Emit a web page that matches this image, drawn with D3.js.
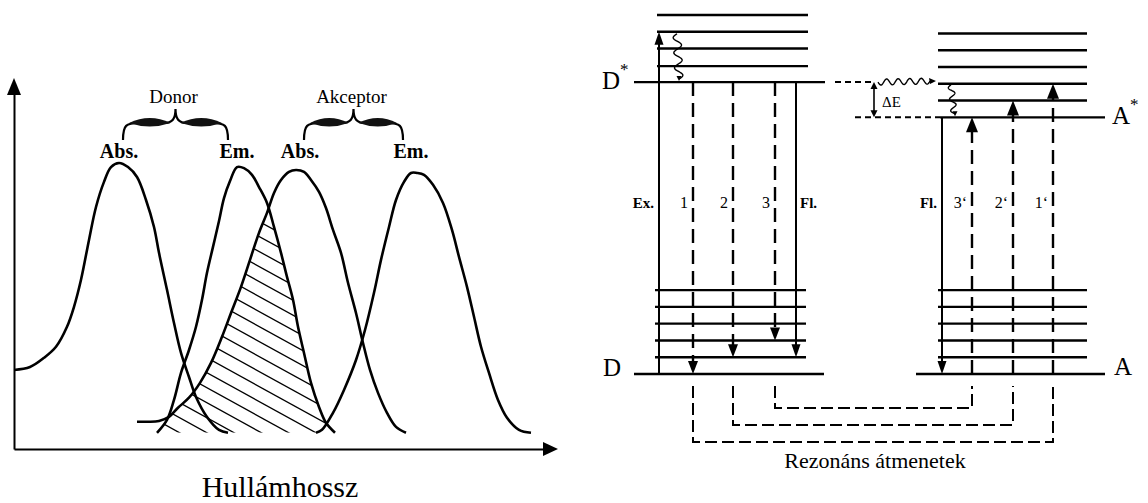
<!DOCTYPE html>
<html>
<head>
<meta charset="utf-8">
<script src="https://cdn.jsdelivr.net/npm/d3@7"></script>
<style>
body { margin: 0; background: #fff; }
svg { display: block; font-family: "Liberation Serif", "Times New Roman", serif; }
</style>
</head>
<body>
<svg id="chart" width="1148" height="503"></svg>
<script>
// spectra, [wavelength (arb.), relative intensity]
var donorAbs = [[0,0.233],[16,0.244],[30,0.278],[42,0.319],[53,0.393],[60,0.467],[67,0.567],[75,0.715],[82,0.837],[90,0.930],[97,0.985],[105,1.0],[114,0.985],[123,0.948],[132,0.863],[140,0.763],[145,0.667],[153,0.530],[160,0.407],[167,0.296],[175,0.207],[182,0.133],[193,0.059],[205,0.011],[214,0]];
var donorEm = [[143,0],[153,0.048],[160,0.122],[167,0.222],[175,0.307],[182,0.393],[188,0.493],[193,0.593],[199,0.689],[205,0.785],[210,0.87],[216,0.933],[223,0.985],[230,0.981],[238,0.956],[245,0.911],[253,0.852],[260,0.763],[267,0.667],[273,0.578],[279,0.493],[284,0.393],[290,0.296],[297,0.185],[305,0.096],[312,0.037],[321,0]];
var acceptorAbs = [[123,0.041],[134,0.041],[145,0.044],[155,0.059],[164,0.093],[175,0.130],[186,0.185],[197,0.259],[208,0.356],[217,0.444],[227,0.541],[236,0.641],[245,0.741],[253,0.815],[260,0.889],[267,0.937],[275,0.967],[282,0.974],[290,0.967],[297,0.937],[305,0.893],[312,0.833],[319,0.752],[327,0.667],[334,0.556],[342,0.444],[349,0.333],[356,0.233],[364,0.148],[373,0.074],[382,0.022],[392,0]];
var acceptorEm = [[302,0],[308,0.011],[319,0.074],[330,0.159],[342,0.270],[351,0.381],[360,0.519],[367,0.641],[375,0.763],[382,0.863],[390,0.930],[397,0.963],[403,0.963],[410,0.956],[419,0.919],[429,0.852],[438,0.752],[445,0.652],[453,0.541],[460,0.430],[467,0.319],[475,0.222],[484,0.122],[493,0.056],[505,0.011],[517,0]];

var spectrumLabels = ["Abs.", "Em.", "Abs.", "Em."];
var groupLabels = ["Donor", "Akceptor"];
var axisTitle = "Hullámhossz";

// energy levels, in units of one vibrational step
var donorGround = [0, 1, 2, 3, 4, 5];
var donorExcited = [17.4, 18.35, 19.4, 20.4, 21.4];
var acceptorGround = [0, 1, 2, 3, 4, 5];
var acceptorExcited = [15.3, 16.3, 17.3, 18.3, 19.3, 20.3];

var donorTransitions = [
    {label: "Ex.", from: 0, to: 20.4, dashed: false},
    {label: "1", from: 17.4, to: 0, dashed: true},
    {label: "2", from: 17.4, to: 1, dashed: true},
    {label: "3", from: 17.4, to: 2, dashed: true},
    {label: "Fl.", from: 17.4, to: 1, dashed: false}
];
var acceptorTransitions = [
    {label: "Fl.", from: 15.3, to: 0, dashed: false},
    {label: "3‘", from: 0, to: 15.3, dashed: true},
    {label: "2‘", from: 0, to: 16.3, dashed: true},
    {label: "1‘", from: 0, to: 17.3, dashed: true}
];
var resonantPairs = [["3", "3‘"], ["2", "2‘"], ["1", "1‘"]];
var levelLabels = ["D", "A"];
var footer = "Rezonáns átmenetek";

var svg = d3.select("#chart");
svg.append("rect").attr("width", 1148).attr("height", 503).attr("fill", "#fff");

// ---------- left: spectral overlap ----------
var xL = d3.scaleLinear().domain([0, 532]).range([14, 546]);
var yL = d3.scaleLinear().domain([-0.06, 1]).range([449, 163]);

var yAxisScale = d3.scaleLinear().domain([yL.invert(449), yL.invert(93)]).range([449, 93]);

svg.append("g")
    .attr("transform", "translate(14,0)")
    .call(d3.axisLeft(yAxisScale).ticks(0).tickSizeOuter(0))
    .select(".domain").attr("stroke-width", 2);
svg.append("g")
    .attr("transform", "translate(0,449)")
    .call(d3.axisBottom(xL).ticks(0).tickSizeOuter(0))
    .select(".domain").attr("stroke-width", 2);

svg.append("path").attr("d", "M14,78 L7,95 L21,95 Z").attr("fill", "#000");
svg.append("path").attr("d", "M558,449 L543,442 L543,456 Z").attr("fill", "#000");

var line = d3.line()
    .x(function (d) { return xL(d[0]); })
    .y(function (d) { return yL(d[1]); })
    .curve(d3.curveCatmullRom.alpha(0.5));
var area = d3.area()
    .x(function (d) { return xL(d[0]); })
    .y0(yL(0))
    .y1(function (d) { return yL(d[1]); })
    .curve(d3.curveCatmullRom.alpha(0.5));

// overlap = under both donor emission and acceptor absorption
var defs = svg.append("defs");
defs.append("clipPath").attr("id", "clipEm").append("path").attr("d", area(donorEm));
defs.append("clipPath").attr("id", "clipAbs").append("path").attr("d", area(acceptorAbs));

var hatch = svg.append("g").attr("clip-path", "url(#clipEm)")
    .append("g").attr("clip-path", "url(#clipAbs)");
for (var k = -30; k < 30; k++) {
    var y0 = 160 + k * 15;
    hatch.append("line")
        .attr("x1", 120).attr("y1", y0)
        .attr("x2", 380).attr("y2", y0 + 260 * 0.55)
        .attr("stroke", "#000").attr("stroke-width", 1.3);
}

var spectra = [donorAbs, donorEm, acceptorAbs, acceptorEm];
svg.selectAll("path.spec")
    .data(spectra)
    .enter()
    .append("path")
    .attr("class", "spec")
    .attr("d", line)
    .attr("fill", "none")
    .attr("stroke", "#000")
    .attr("stroke-width", 2.6);

var peakX = spectra.map(function (s) {
    return xL(s.reduce(function (a, b) { return b[1] > a[1] ? b : a; })[0]);
});

svg.selectAll("text.spec")
    .data(spectrumLabels)
    .enter()
    .append("text")
    .attr("class", "spec")
    .attr("x", function (d, i) { return peakX[i] + (i === 2 ? 4 : 0); })
    .attr("y", 158)
    .attr("text-anchor", "middle")
    .attr("font-size", 20)
    .attr("font-weight", "bold")
    .text(function (d) { return d; });

function brace(x0, x1) {
    var xm = (x0 + x1) / 2, yE = 140, yA = 123, yT = 109;
    var g = svg.append("g");
    var p = "M" + x0 + "," + yE + " C" + x0 + "," + (yA + 2) + " " + (x0 + 3) + "," + yA + " " + (x0 + 16) + "," + yA +
        " L" + (xm - 12) + "," + yA + " C" + (xm - 3) + "," + yA + " " + xm + "," + (yA - 4) + " " + xm + "," + yT +
        " C" + xm + "," + (yA - 4) + " " + (xm + 3) + "," + yA + " " + (xm + 12) + "," + yA +
        " L" + (x1 - 16) + "," + yA + " C" + (x1 - 3) + "," + yA + " " + x1 + "," + (yA + 2) + " " + x1 + "," + yE;
    g.append("path").attr("d", p).attr("fill", "none").attr("stroke", "#000").attr("stroke-width", 2.2);
    [[x0 + 6, xm - 5], [xm + 5, x1 - 6]].forEach(function (s) {
        var m = (s[0] + s[1]) / 2;
        g.append("path")
            .attr("d", "M" + s[0] + "," + yA + " Q" + m + "," + (yA - 10) + " " + s[1] + "," + yA +
                " Q" + m + "," + (yA + 7) + " " + s[0] + "," + yA + " Z")
            .attr("fill", "#111");
    });
    return xm;
}

var braceMid = [brace(peakX[0] + 4, peakX[1] - 9), brace(peakX[2] + 8, peakX[3] - 8)];
svg.selectAll("text.grp")
    .data(groupLabels)
    .enter()
    .append("text")
    .attr("class", "grp")
    .attr("x", function (d, i) { return braceMid[i] - 2; })
    .attr("y", 103)
    .attr("text-anchor", "middle")
    .attr("font-size", 19)
    .text(function (d) { return d; });

svg.append("text")
    .attr("x", 280).attr("y", 497)
    .attr("text-anchor", "middle")
    .attr("font-size", 30)
    .text(axisTitle);

// ---------- right: energy level diagram ----------
var yE = d3.scaleLinear().domain([0, 21.4]).range([374, 15]);

var donorCols = {"Ex.": 659, "1": 693, "2": 733, "3": 775, "Fl.": 796};
var acceptorCols = {"Fl.": 942, "3‘": 972, "2‘": 1013, "1‘": 1053};

var R = svg.append("g").attr("stroke", "#000").attr("fill", "none");

function levels(data, first, rest) {
    R.selectAll(null)
        .data(data)
        .enter()
        .append("line")
        .attr("x1", function (d, i) { return i === 0 ? first[0] : rest[0]; })
        .attr("x2", function (d, i) { return i === 0 ? first[1] : rest[1]; })
        .attr("y1", function (d) { return yE(d); })
        .attr("y2", function (d) { return yE(d); })
        .attr("stroke-width", 2.4);
}
levels(donorGround, [634, 824], [655, 806]);
levels(donorExcited, [634, 825], [657, 808]);
levels(acceptorGround, [916, 1105], [938, 1087]);
levels(acceptorExcited, [940, 1105], [938, 1087]);

// dashed links at D* and A*
R.append("line").attr("x1", 835).attr("x2", 871)
    .attr("y1", yE(donorExcited[0])).attr("y2", yE(donorExcited[0]))
    .attr("stroke-width", 2).attr("stroke-dasharray", "6,4");
R.append("line").attr("x1", 855).attr("x2", 940)
    .attr("y1", yE(acceptorExcited[0])).attr("y2", yE(acceptorExcited[0]))
    .attr("stroke-width", 2).attr("stroke-dasharray", "6,4");

function head(x, yTip, dir, w, h) {
    // dir 1: points down, -1: points up
    svg.append("path")
        .attr("d", "M" + x + "," + yTip + " L" + (x - w / 2) + "," + (yTip - dir * h) + " L" + (x + w / 2) + "," + (yTip - dir * h) + " Z")
        .attr("fill", "#000");
}

function transitions(list, cols, big) {
    list.forEach(function (t) {
        var x = cols[t.label];
        var dir = t.to < t.from ? 1 : -1;
        var h = big && dir < 0 ? 15 : 13;
        var w = big && dir < 0 ? 12 : 10;
        if (!t.dashed) { h = 13; w = 9; }
        var yTip = yE(t.to);
        R.append("line")
            .attr("x1", x).attr("x2", x)
            .attr("y1", yE(t.from)).attr("y2", yTip - dir * (h - 2))
            .attr("stroke-width", t.dashed ? 2.4 : 2)
            .attr("stroke-dasharray", t.dashed ? "14,7" : null);
        head(x, yTip, dir, w, h);
    });
}
transitions(donorTransitions, donorCols, false);
transitions(acceptorTransitions, acceptorCols, true);

svg.selectAll("text.dl")
    .data(donorTransitions)
    .enter()
    .append("text")
    .attr("class", "dl")
    .attr("x", function (d) { return d.label === "Fl." ? donorCols[d.label] + 4 : donorCols[d.label] - 5; })
    .attr("y", 208)
    .attr("text-anchor", function (d) { return d.label === "Fl." ? "start" : "end"; })
    .attr("font-size", function (d) { return d.dashed ? 16 : 15; })
    .attr("font-weight", function (d) { return d.dashed ? "normal" : "bold"; })
    .text(function (d) { return d.label; });

svg.selectAll("text.al")
    .data(acceptorTransitions)
    .enter()
    .append("text")
    .attr("class", "al")
    .attr("x", function (d) { return acceptorCols[d.label] - 5; })
    .attr("y", 208)
    .attr("text-anchor", "end")
    .attr("font-size", function (d) { return d.dashed ? 16 : 15; })
    .attr("font-weight", function (d) { return d.dashed ? "normal" : "bold"; })
    .text(function (d) { return d.label; });

// resonant pairs
var linkY = d3.scalePoint().domain(resonantPairs.map(function (p) { return p[0]; })).range([408, 442]);
resonantPairs.forEach(function (p) {
    var xa = donorCols[p[0]], xb = acceptorCols[p[1]], yy = linkY(p[0]);
    R.append("path")
        .attr("d", "M" + xa + ",386 L" + xa + "," + yy + " L" + xb + "," + yy + " L" + xb + ",386")
        .attr("stroke-width", 2)
        .attr("stroke-dasharray", "12,5");
});

// wavy relaxation arrows
function wavy(x0, y0, x1, y1, amp, cycles) {
    var dx = x1 - x0, dy = y1 - y0, len = Math.sqrt(dx * dx + dy * dy);
    var nx = -dy / len, ny = dx / len;
    var pts = d3.range(0, 1.0001, 1 / 80).map(function (t) {
        var o = amp * Math.sin(2 * Math.PI * cycles * t);
        return [x0 + dx * t + nx * o, y0 + dy * t + ny * o];
    });
    R.append("path").attr("d", d3.line()(pts)).attr("stroke-width", 1.4);
}
wavy(677, yE(20.4) + 2, 679, yE(17.4) - 3, 4, 3);
head(679, yE(17.4) - 1, 1, 5, 5);
wavy(878, yE(17.4), 930, yE(17.4) - 1, 3, 4.5);
svg.append("path").attr("d", "M936," + (yE(17.4) - 1) + " L929," + (yE(17.4) - 4) + " L930," + (yE(17.4) + 2) + " Z").attr("fill", "#000");
wavy(951, yE(17.3) + 1, 954, yE(15.3) - 4, 3, 2.5);
head(955, yE(15.3) - 1, 1, 5, 5);

// Delta E
R.append("line").attr("x1", 874).attr("x2", 874)
    .attr("y1", yE(17.4) + 5).attr("y2", yE(15.3) - 5).attr("stroke-width", 1.6);
head(874, yE(17.4), -1, 7, 7);
head(874, yE(15.3), 1, 7, 7);
svg.append("text").attr("x", 882).attr("y", 107).attr("font-size", 15).text("ΔE");

// level names
function levelName(x, y, name, star) {
    var t = svg.append("text").attr("x", x).attr("y", y).attr("font-size", 25).text(name);
    if (star) t.append("tspan").attr("dy", -14).attr("font-size", 17).text("*");
}
levelName(602, 89, levelLabels[0], true);
levelName(1112, 124, levelLabels[1], true);
levelName(603, 376, levelLabels[0], false);
levelName(1114, 375, levelLabels[1], false);

svg.append("text")
    .attr("x", 875).attr("y", 468)
    .attr("text-anchor", "middle")
    .attr("font-size", 22)
    .text(footer);
</script>
</body>
</html>
